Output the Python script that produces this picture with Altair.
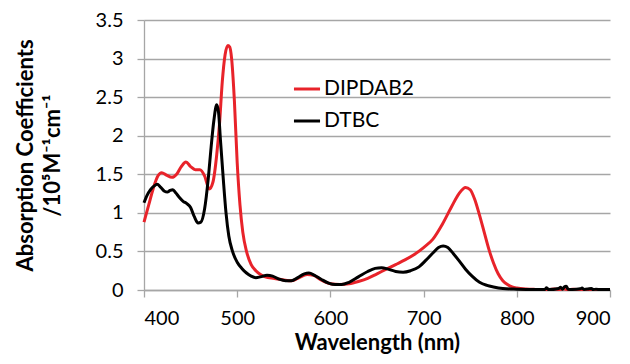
import altair as alt
import pandas as pd

red_wl = [400, 405, 410, 415, 419, 424, 430, 435, 440, 445, 450, 455, 460, 465, 470, 474, 478, 481, 484, 487, 490, 492, 494, 497, 500, 503, 506, 510, 515, 520, 525, 530, 540, 550, 558, 565, 575, 582, 590, 600, 610, 620, 630, 640, 650, 660, 670, 680, 690, 700, 710, 720, 730, 738, 745, 750, 755, 760, 765, 770, 775, 780, 785, 790, 795, 800, 810, 820, 835, 840, 845, 850, 855, 860, 870, 880, 890, 900]
red_val = [0.88, 1.1, 1.32, 1.48, 1.52, 1.49, 1.46, 1.5, 1.6, 1.66, 1.6, 1.56, 1.56, 1.48, 1.31, 1.4, 1.75, 2.15, 2.7, 3.05, 3.17, 3.15, 3.0, 2.45, 1.65, 1.1, 0.75, 0.5, 0.33, 0.25, 0.2, 0.17, 0.15, 0.13, 0.12, 0.15, 0.2, 0.19, 0.13, 0.08, 0.07, 0.08, 0.11, 0.15, 0.21, 0.27, 0.33, 0.39, 0.46, 0.55, 0.66, 0.85, 1.08, 1.25, 1.33, 1.3, 1.17, 0.97, 0.75, 0.53, 0.35, 0.21, 0.12, 0.07, 0.04, 0.025, 0.012, 0.008, 0.006, 0.012, 0.006, 0.015, 0.006, 0.01, 0.006, 0.008, 0.005, 0.005]

blk_wl = [400, 403, 407, 411, 414, 418, 422, 425, 428, 431, 434, 438, 442, 446, 450, 454, 458, 461, 465, 469, 472, 475, 478, 480, 482, 485, 488, 491, 495, 500, 505, 510, 515, 520, 525, 532, 538, 545, 552, 558, 565, 572, 577, 583, 590, 598, 605, 612, 620, 630, 640, 648, 655, 662, 670, 678, 686, 695, 702, 710, 716, 721, 726, 732, 738, 745, 752, 760, 768, 775, 785, 800, 820, 830, 832, 834, 845, 847, 849, 851, 853, 855, 860, 868, 870, 872, 876, 880, 882, 885, 890, 900]
blk_val = [1.13, 1.22, 1.3, 1.35, 1.37, 1.33, 1.28, 1.27, 1.29, 1.3, 1.26, 1.2, 1.15, 1.12, 1.07, 0.95, 0.87, 0.88, 1.05, 1.45, 1.85, 2.2, 2.4, 2.3, 1.95, 1.45, 1.0, 0.7, 0.5, 0.36, 0.28, 0.22, 0.18, 0.16, 0.17, 0.19, 0.18, 0.14, 0.12, 0.12, 0.16, 0.21, 0.22, 0.19, 0.14, 0.09, 0.07, 0.07, 0.1, 0.17, 0.24, 0.28, 0.29, 0.27, 0.24, 0.23, 0.25, 0.3, 0.38, 0.48, 0.55, 0.57, 0.55, 0.47, 0.38, 0.27, 0.18, 0.1, 0.06, 0.04, 0.02, 0.01, 0.005, 0.008, 0.03, 0.005, 0.02, 0.035, 0.01, 0.04, 0.05, 0.01, 0.006, 0.015, 0.025, 0.008, 0.012, 0.02, 0.006, 0.01, 0.005, 0.005]

series_names = ["DIPDAB2", "DTBC"]
series_colors = ["#e8232a", "#000000"]

rows = []
for w, v in zip(red_wl, red_val):
    rows.append({"wl": w, "val": v, "series": series_names[0], "order": 0})
for w, v in zip(blk_wl, blk_val):
    rows.append({"wl": w, "val": v, "series": series_names[1], "order": 1})
df = pd.DataFrame(rows)

FONT = "Lato"

chart = alt.Chart(df).mark_line(strokeWidth=3, interpolate="monotone").encode(
    x=alt.X("wl:Q", scale=alt.Scale(domain=[400, 900], nice=False),
            axis=alt.Axis(title="Wavelength (nm)", values=[400, 500, 600, 700, 800, 900],
                          grid=False, tickSize=7, labelPadding=11, titlePadding=4)),
    y=alt.Y("val:Q", scale=alt.Scale(domain=[0, 3.5], nice=False),
            axis=alt.Axis(title=["Absorption Coefficients", "/10⁵M⁻¹cm⁻¹"],
                          values=[0, 0.5, 1, 1.5, 2, 2.5, 3, 3.5], format="~g",
                          grid=True, tickSize=7, labelPadding=14, titlePadding=31)),
    color=alt.Color("series:N", scale=alt.Scale(domain=series_names, range=series_colors),
                    legend=alt.Legend(title=None, orient="none", legendX=148, legendY=54,
                                      symbolType="stroke", symbolSize=680, symbolStrokeWidth=3,
                                      labelFontSize=21, labelFont=FONT, labelOffset=2,
                                      rowPadding=7, labelColor="#000")),
    order=alt.Order("order:Q"),
    detail="series:N",
).properties(
    width=466, height=270,
    autosize=alt.AutoSizeParams(type="none"),
    padding={"left": 136, "top": 12, "right": 12, "bottom": 66},
).configure_axis(
    labelFont=FONT, titleFont=FONT, labelFontSize=20, titleFontSize=22,
    titleFontWeight="bold", labelColor="#000", titleColor="#000",
    domainColor="#a6a6a6", tickColor="#a6a6a6", gridColor="#a6a6a6",
    domainWidth=1.3, tickWidth=1.3, gridWidth=1.3, titleLineHeight=27,
).configure_view(stroke=None)

chart.save("out.html", embed_options={"renderer": "svg", "actions": False})
